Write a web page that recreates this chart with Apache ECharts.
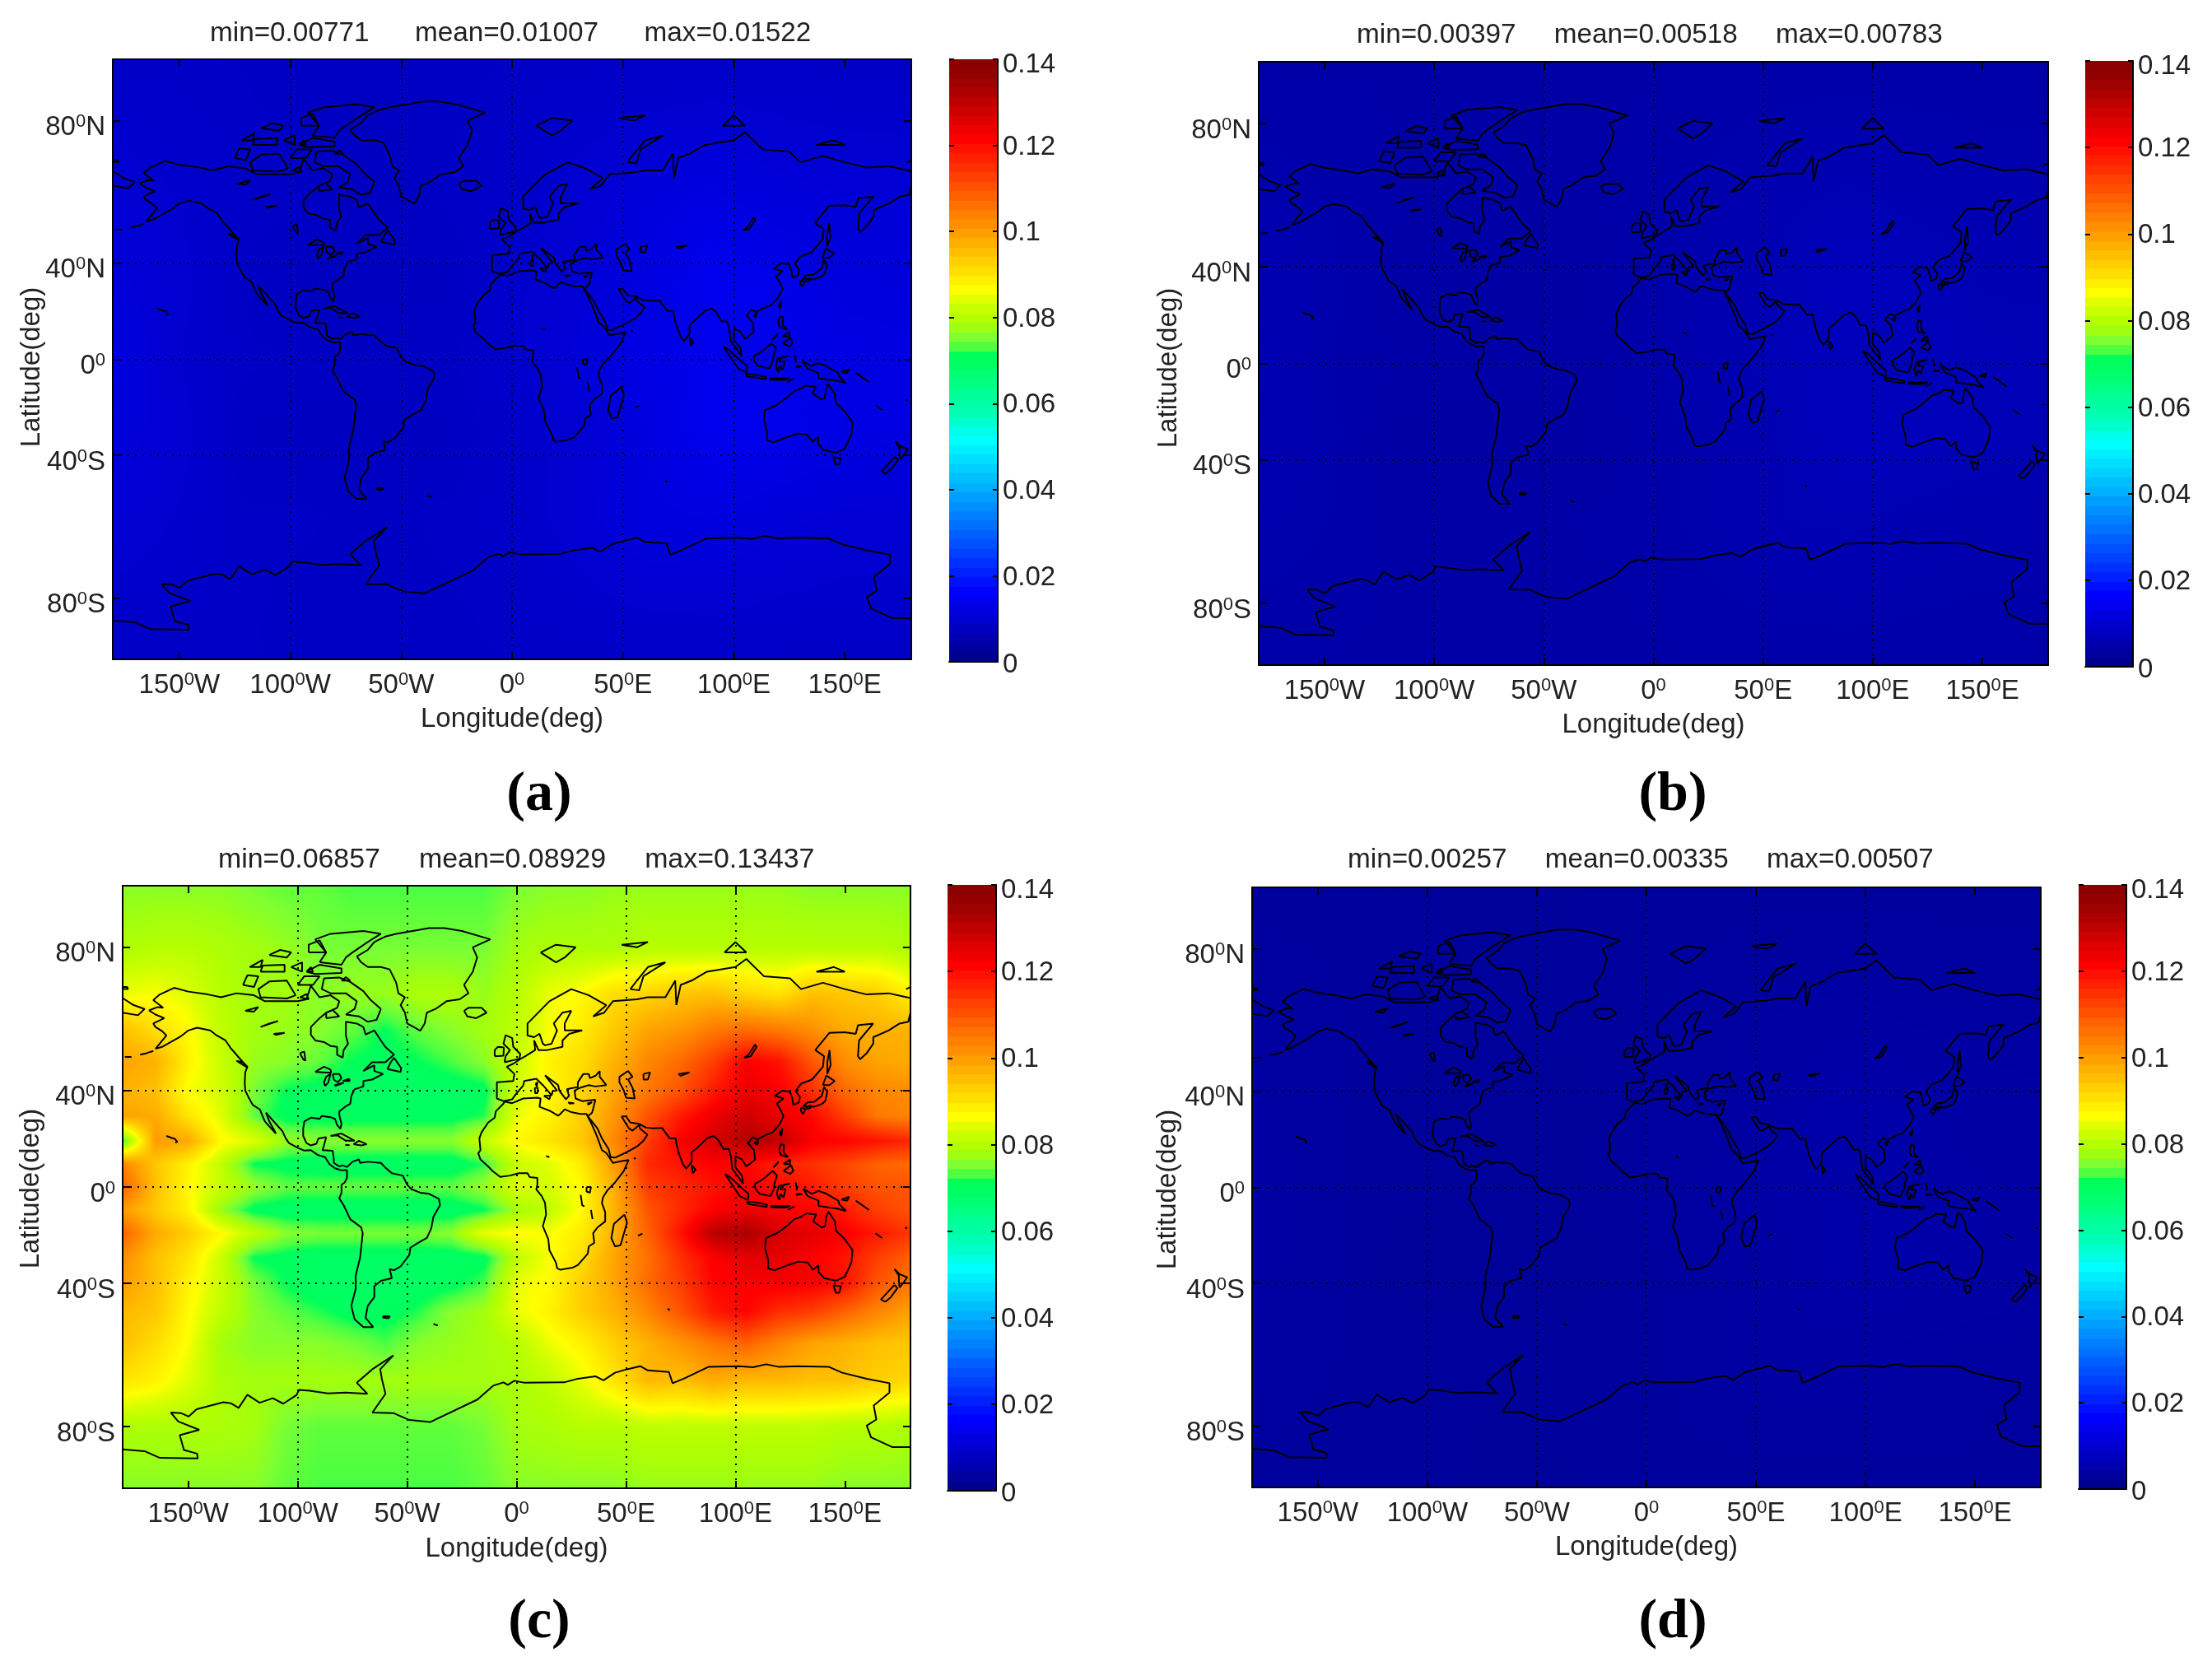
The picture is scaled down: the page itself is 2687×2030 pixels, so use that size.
<!DOCTYPE html>
<html>
<head>
<meta charset="utf-8">
<title>World maps</title>
<style>
  html, body { margin: 0; padding: 0; background: #fff; }
  #chart { width: 2687px; height: 2030px; }
</style>
<script src="https://cdn.jsdelivr.net/npm/echarts@6/dist/echarts.min.js"></script>
</head>
<body>
<div id="chart"></div>
<script>
// tick labels, split as [number, hemisphere]
const lonTicks = [-150, -100, -50, 0, 50, 100, 150]
const lonTickLabels = [['150', 'W'], ['100', 'W'], ['50', 'W'], ['0', ''], ['50', 'E'], ['100', 'E'], ['150', 'E']]
const latTicks = [-80, -40, 0, 40, 80]
const latTickLabels = [['80', 'S'], ['40', 'S'], ['0', ''], ['40', 'N'], ['80', 'N']]

const colorbarMax = 0.14
const colorbarInterval = 0.02

const titlesA = 'min=0.00771      mean=0.01007      max=0.01522'
const titlesB = 'min=0.00397     mean=0.00518     max=0.00783'
const titlesC = 'min=0.06857     mean=0.08929     max=0.13437'
const titlesD = 'min=0.00257     mean=0.00335     max=0.00507'

// panel (c), in thousandths
const fineLons = [-180, -165, -150, -135, -120, -105, -90, -75, -60, -45, -30, -15, 0, 15, 30, 45, 60, 75, 90, 105, 120, 135, 150, 165, 180]
const fineLats = [90, 80, 70, 60, 50, 40, 30, 20, 10, 0, -10, -20, -30, -40, -50, -60, -70, -80, -90]
const fieldC = [
  [76, 76, 76, 76, 75, 74, 74, 73, 73, 73, 73, 73, 75, 76, 76, 77, 77, 77, 77, 77, 77, 76, 76, 76, 76],
  [79, 80, 80, 79, 78, 77, 75, 75, 75, 75, 75, 75, 78, 79, 79, 79, 80, 80, 80, 80, 80, 80, 80, 80, 79],
  [85, 86, 84, 80, 78, 78, 76, 77, 77, 79, 79, 77, 80, 85, 87, 91, 92, 94, 95, 92, 90, 95, 94, 93, 88],
  [95, 91, 87, 81, 78, 77, 76, 74, 71, 74, 76, 78, 81, 86, 89, 94, 99, 101, 105, 107, 105, 102, 98, 97, 97],
  [99, 97, 88, 82, 77, 76, 74, 71, 70, 71, 73, 76, 82, 88, 91, 97, 103, 107, 113, 122, 119, 110, 102, 99, 98],
  [97, 95, 86, 83, 75, 71, 70, 69, 69, 69, 69, 70, 83, 87, 92, 99, 105, 110, 118, 124, 122, 115, 107, 103, 102],
  [99, 98, 90, 84, 74, 70, 70, 70, 70, 70, 70, 72, 85, 88, 93, 101, 110, 118, 124, 128, 124, 121, 113, 105, 103],
  [72, 100, 98, 87, 84, 77, 76, 76, 76, 76, 76, 82, 87, 90, 94, 103, 113, 122, 127, 132, 130, 122, 121, 119, 116],
  [103, 94, 88, 81, 71, 70, 69, 69, 69, 69, 69, 72, 82, 84, 89, 100, 116, 119, 122, 121, 117, 115, 112, 108, 107],
  [108, 95, 87, 82, 77, 74, 74, 74, 74, 74, 74, 77, 84, 83, 87, 98, 113, 116, 119, 122, 120, 118, 113, 110, 110],
  [100, 94, 88, 77, 70, 69, 69, 69, 69, 69, 69, 71, 78, 81, 87, 97, 110, 116, 122, 124, 122, 121, 118, 113, 110],
  [108, 98, 93, 87, 81, 76, 75, 75, 75, 75, 76, 85, 87, 86, 89, 97, 108, 119, 131, 133, 127, 125, 122, 118, 114],
  [102, 95, 90, 82, 71, 70, 69, 69, 69, 69, 69, 70, 81, 86, 91, 99, 106, 115, 122, 125, 125, 122, 119, 113, 108],
  [100, 95, 88, 82, 75, 71, 69, 69, 69, 69, 70, 73, 85, 87, 93, 99, 107, 113, 121, 122, 123, 122, 119, 110, 105],
  [96, 94, 87, 81, 76, 74, 72, 70, 70, 72, 76, 78, 85, 88, 93, 97, 103, 110, 118, 121, 115, 113, 108, 103, 99],
  [95, 91, 86, 78, 76, 76, 76, 75, 73, 76, 77, 78, 80, 85, 88, 93, 97, 101, 105, 108, 103, 99, 97, 95, 94],
  [90, 88, 84, 79, 78, 78, 78, 78, 78, 78, 78, 78, 79, 81, 85, 90, 96, 95, 98, 96, 96, 95, 95, 93, 92],
  [79, 79, 79, 79, 78, 75, 74, 74, 74, 74, 74, 75, 78, 79, 80, 80, 81, 81, 81, 81, 81, 81, 80, 80, 79],
  [76, 76, 76, 76, 76, 74, 73, 73, 73, 73, 73, 74, 76, 76, 76, 76, 77, 77, 77, 77, 77, 77, 76, 76, 76]
]

// panels (a), (b), (d) hardly vary, so a coarser reading is enough
const coarseLons = [-180, -150, -120, -90, -60, -30, 0, 30, 60, 90, 120, 150, 180]
const coarseLats = [90, 60, 30, 0, -30, -60, -90]
const fieldA = [
  [8.6, 8.6, 8.5, 8.3, 8.2, 8.3, 8.6, 8.7, 8.7, 8.7, 8.7, 8.6, 8.6],
  [10.7, 9.8, 8.8, 8.5, 8.0, 8.6, 9.1, 10.3, 11.6, 12.5, 11.5, 11.0, 10.9],
  [11.2, 10.1, 8.4, 7.9, 7.9, 7.9, 9.6, 10.5, 12.4, 14.4, 13.7, 11.8, 11.6],
  [12.2, 9.8, 8.7, 8.4, 8.3, 8.4, 9.5, 11.1, 12.8, 13.8, 13.3, 12.7, 12.4],
  [11.5, 10.2, 8.0, 7.8, 7.8, 7.9, 9.1, 10.3, 12.0, 14.1, 13.8, 12.8, 12.2],
  [10.7, 9.7, 8.6, 8.6, 8.3, 8.7, 9.0, 10.5, 11.9, 12.2, 11.2, 10.7, 10.6],
  [8.6, 8.6, 8.6, 8.3, 8.2, 8.3, 8.6, 8.6, 8.7, 8.7, 8.7, 8.6, 8.6]
]
const fieldB = [
  [4.4, 4.4, 4.4, 4.3, 4.2, 4.3, 4.4, 4.5, 4.5, 4.5, 4.5, 4.4, 4.4],
  [5.5, 5.0, 4.5, 4.4, 4.1, 4.4, 4.7, 5.3, 6.0, 6.4, 5.9, 5.7, 5.6],
  [5.8, 5.2, 4.3, 4.1, 4.1, 4.1, 4.9, 5.4, 6.4, 7.4, 7.0, 6.1, 6.0],
  [6.3, 5.0, 4.5, 4.3, 4.3, 4.3, 4.9, 5.7, 6.6, 7.1, 6.9, 6.5, 6.4],
  [5.9, 5.2, 4.1, 4.0, 4.0, 4.1, 4.7, 5.3, 6.2, 7.3, 7.1, 6.6, 6.3],
  [5.5, 5.0, 4.4, 4.4, 4.3, 4.5, 4.6, 5.4, 6.1, 6.3, 5.8, 5.5, 5.5],
  [4.4, 4.4, 4.4, 4.3, 4.2, 4.3, 4.4, 4.4, 4.5, 4.5, 4.5, 4.4, 4.4]
]
const fieldD = [
  [2.9, 2.9, 2.8, 2.8, 2.7, 2.8, 2.9, 2.9, 2.9, 2.9, 2.9, 2.9, 2.9],
  [3.6, 3.3, 2.9, 2.8, 2.7, 2.9, 3.0, 3.4, 3.9, 4.1, 3.8, 3.7, 3.6],
  [3.7, 3.4, 2.8, 2.6, 2.6, 2.6, 3.2, 3.5, 4.1, 4.8, 4.6, 3.9, 3.9],
  [4.1, 3.3, 2.9, 2.8, 2.8, 2.8, 3.2, 3.7, 4.3, 4.6, 4.4, 4.2, 4.1],
  [3.8, 3.4, 2.7, 2.6, 2.6, 2.6, 3.0, 3.4, 4.0, 4.7, 4.6, 4.2, 4.0],
  [3.6, 3.2, 2.9, 2.9, 2.8, 2.9, 3.0, 3.5, 4.0, 4.1, 3.7, 3.6, 3.5],
  [2.9, 2.9, 2.8, 2.8, 2.7, 2.8, 2.9, 2.9, 2.9, 2.9, 2.9, 2.9, 2.9]
]

// the 64 colorbar bands, bottom to top
const jetColors = [
  [0, 0, 143], [0, 0, 159], [0, 0, 175], [0, 0, 191], [0, 0, 207], [0, 0, 223], [0, 0, 239], [0, 0, 255],
  [0, 16, 255], [0, 32, 255], [0, 48, 255], [0, 64, 255], [0, 80, 255], [0, 96, 255], [0, 112, 255], [0, 128, 255],
  [0, 143, 255], [0, 159, 255], [0, 175, 255], [0, 191, 255], [0, 207, 255], [0, 223, 255], [0, 239, 255], [0, 255, 255],
  [0, 255, 230], [0, 255, 205], [0, 255, 180], [0, 255, 165], [0, 255, 150], [0, 255, 130], [0, 255, 115], [0, 255, 100],
  [0, 255, 90], [80, 255, 64], [128, 255, 48], [160, 255, 16], [180, 255, 0], [200, 255, 0], [224, 255, 0], [255, 255, 0],
  [255, 239, 0], [255, 223, 0], [255, 207, 0], [255, 191, 0], [255, 175, 0], [255, 159, 0], [255, 143, 0], [255, 128, 0],
  [255, 112, 0], [255, 96, 0], [255, 80, 0], [255, 64, 0], [255, 48, 0], [255, 32, 0], [255, 16, 0], [255, 0, 0],
  [239, 0, 0], [223, 0, 0], [207, 0, 0], [191, 0, 0], [175, 0, 0], [159, 0, 0], [147, 0, 0], [139, 0, 0]
]

// coastlines, lon lat pairs
const alaskaToPanama = [-168,65.6, -164,66.5, -161.5,66.3, -166,68.3, -163,69.7, -156.5,71.3, -150,70.4, -141,69.7, -135,69, -128,70, -125,69.8, -120,69.5, -115,68, -108,68, -100,68, -96,68.5, -94,71.8, -90,69, -85,69.5, -81,68, -82,66.3, -87,65, -90,63.5, -94,61, -94,58.7, -92,57, -88,56.5, -85,55.3, -82,55, -82,52.5, -79.5,51.5, -79,54, -77,56, -78,58.5, -78,62.5, -73,62, -70,61, -69,58.8, -65,60, -62,57, -60,55, -56,52.5, -60,50, -66,50, -70,47, -65,49, -65,47, -61,46, -66,44, -70,43.5, -70,41.5, -74,40.5, -75.5,38, -76,35, -78,34, -81,32, -81,30.5, -80,27, -80.5,25, -82,26.5, -83,29, -85,29.7, -89,30.2, -90,29, -94,29.5, -97,28, -97.5,25, -97.5,22, -96,19, -94,18, -91.5,18.7, -90.5,21, -87,21.5, -88,18, -88.7,16, -84,15.7, -83.5,12, -83.5,10.5, -81,9, -79.5,9.5, -77.5,8.7]
const panamaToBering = [-77.5,7.5, -80,7.3, -83,8.2, -85.5,10, -87.5,13, -91,14, -94,16, -97,15.8, -100,17, -104,19, -105.5,21, -107,24, -109,26, -112.5,29.5, -114.5,31.5, -113,28, -110.5,24, -110,23, -112,25, -115,28, -116.5,31, -117.2,32.7, -120.5,34.5, -122.5,37.5, -124,40, -124.2,43, -124,46.5, -123,48.5, -125,50, -128,52.5, -130.5,54.5, -133,57, -137,58.5, -140,60, -146,60.8, -150,60, -152,59, -154,58, -158,56.5, -162,55, -165,54.4, -160,58.5, -162,59.8, -165,61, -166,62, -161,63.5, -165,64.5, -168,65.6]
const southAmerica = [-77.5,8.7, -75,11, -72,12, -71.5,10.5, -68,11, -62,10.5, -60,8.5, -57,6, -52,5, -50,1, -48,-1, -44,-2.5, -40,-3, -35.5,-5.2, -35,-8, -38,-13, -39,-18, -41,-22, -45,-24, -48.5,-26, -49,-29, -53,-33.5, -56,-35, -58,-34.5, -57,-38, -62,-39, -65,-41, -65,-45, -68,-48, -69,-52, -65.5,-55, -70,-55, -74,-52.5, -75.5,-48, -73.5,-42, -73.5,-37, -71.5,-30, -70.3,-20, -71,-17.5, -76,-14, -79,-8, -81,-5, -80,-2.5, -80,1, -78.5,2, -77.5,4, -77.5,7.5]
const greenland = [-73,78.2, -71,77, -68,76, -62,76, -58,75.5, -55,72.5, -54,70, -51,69, -53,67, -51,65, -50,62, -47,61, -44,59.9, -42,62, -41,65, -37,66, -32,68, -26,68.5, -22,70, -24,72, -20,75, -18,78, -20,80, -12,81.5, -25,83, -33,83.5, -40,83.5, -55,82.5, -60,82, -65,81, -68,79.5, -73,78.2]
const baffin = [-62,66, -64,63, -68,62.5, -72,64, -78,64.5, -74,66, -73,68, -78,70, -85,70, -89,71, -88,73.5, -81,73.7, -76,72.7, -70,70.5, -67,68.5, -62,66]
const victoria = [-117,69, -105,68.7, -101,69.5, -105,73, -113,72.8, -118,71, -117,69]
const banks = [-125,72, -120,71.5, -118,74, -123,74.2, -125,72]
const ellesmere = [-90,77, -80,76.5, -78,78, -75,79, -68,81, -62,82.5, -70,83, -85,82.5, -92,81.5, -87,79, -90,77]
const devon = [-96,75, -92,74.5, -80,74.7, -80,75.7, -90,76.5, -96,75]
const axelHeiberg = [-95,79, -87,79, -90,81.3, -95,80.5, -95,79]
const melville = [-117,75, -106,75, -106,76.5, -116,76.3, -117,75]
const somerset = [-100,72, -93,72, -90,74, -97,74, -100,72]
const southampton = [-87,63.5, -81,64, -84,65.7, -87,65, -87,63.5]
const bathurst = [-103,76, -98,75, -98,77, -103,76]
const princePatrick = [-122,76, -117,76, -116,77.5, -122,76]
const ellefRingnes = [-113,78.5, -105,78, -103,79, -108,79.5, -113,78.5]
const kingWilliam = [-99,69, -95,68.5, -96,69.8, -99,69]
const bylot = [-80,73, -76,73, -78,73.8, -80,73]
const cornwallis = [-96,75, -93,75, -94,76, -96,75]
const newfoundland = [-59,47.7, -53,46.7, -52.7,48, -56,51.5, -57.5,50, -59,47.7]
const vancouver = [-128,50.5, -123.5,48.4, -125,50, -128,50.5]
const iceland = [-24,65.5, -22,66.3, -16,66.3, -13.7,65, -18.5,63.5, -22.5,64, -24,65.5]
const superior = [-92,46.7, -88,48.5, -85,47.5, -84.7,46.5, -87,46.5, -92,46.7]
const michigan = [-87.5,41.7, -86,43, -85,46, -87,45, -88,43, -87.5,41.7]
const huron = [-84,46, -81,46, -80,44.5, -81.7,43, -83.5,44, -84,46]
const erie = [-83,41.7, -79,42.8, -80,42.7, -83,42, -83,41.7]
const ontario = [-79.5,43.5, -76.3,43.5, -76.5,44.2, -79.5,43.5]
const bearLake = [-124,65.5, -118,66.5, -120,65.3, -124,65.5]
const slaveLake = [-117,61, -109,62.7, -113,62, -117,61]
const athabasca = [-111,59, -106,59.3, -110,58.7, -111,59]
const winnipeg = [-99,53, -97,53.5, -96.5,50.5, -97.5,51, -99,53]
const cuba = [-85,22, -80,23, -75,20.5, -74,20, -78,20, -82,22.3, -85,22]
const hispaniola = [-74.5,18.5, -72,20, -68.5,18.5, -71,18, -74.5,18.5]
const jamaica = [-78.3,18.3, -76.3,18.1, -77,17.8, -78.3,18.3]
const falklands = [-61,-51.5, -58,-51.5, -58.5,-52.2, -61,-52, -61,-51.5]
const southGeorgia = [-38,-54, -36,-54.5]
const hawaii = [-160,22, -158,21.3, -156,20.7, -155,19.5, -156,19.3]
const aleutians = [-179,51.8, -176,51.8]
const aleutiansEast = [-172,52.5, -169,53, -166,53.7]
const africa = [32.5,30, 32,31, 29,31, 25,31.7, 22,32.8, 20,31, 19,30.3, 15,32.3, 10.5,33.8, 11,37, 9.5,37.3, 3,37, -2,35.2, -5.5,35.8, -6,35, -9.5,32, -10,29.5, -13,27.5, -16,23.5, -17,21, -16.5,16, -17.5,14.7, -16.5,12, -13,9, -11,7, -7.5,4.4, -3,5, 1,6, 5,6, 6,4.3, 9.5,4, 9.5,1, 9,-1, 11.5,-4, 13,-7, 13.5,-12, 12,-17, 14.5,-22.5, 15,-27, 18,-32, 18.5,-34.2, 20,-34.8, 25.5,-34, 28,-33, 32.5,-28.5, 33,-25.5, 35.5,-24, 35,-20, 37,-17.5, 40.5,-15, 40.5,-11, 39,-7, 39.5,-4.5, 41.5,-1.5, 45,2, 49,7, 51.2,11.8, 48,11.3, 44,10.5, 43,12, 41,14.8, 39,16, 37.3,20.5, 36,23.5, 34,27.5, 32.5,30]
const asiaSouth = [32.5,30, 34.5,28, 37,25, 39,21, 42,16.5, 43,13, 45,12.8, 50,15, 52,16, 55,17.5, 58,20, 59.8,22.5, 56.5,25, 56,26.5, 53,24.2, 51.5,25, 50,27, 48,30, 50,30, 52,27.5, 56,27, 59,25.5, 62,25.2, 66.5,25.3, 67.5,24, 70,21, 72.7,21, 73,19, 74,15, 76,10, 77.5,8, 80,11, 80,15, 82.5,17, 87,21, 90,22, 92,20.5, 94.5,16.5, 97,16.5, 98,13, 98.5,8, 100.5,5.5, 103.5,1.4, 104.2,1.5, 103,5, 100,8.5, 100,13.5, 103,12, 105,9, 106.5,10, 109,12, 108.5,16, 105.7,19, 108,21.5, 110,20.5, 113,22, 117,23.5, 120,26.5, 122,30, 121,32, 119,35, 122,37, 118,38, 121.5,40, 125,39.5, 126,37, 126.5,34.5, 129,35.5, 129.5,37.5, 127.5,39.8, 130,42.5, 135,44, 140,48.5, 140.5,52, 136.5,54, 143,59.3, 150,59.5, 155,59, 156,61.5, 163,62, 156.5,57, 156,52, 157,51, 160,53, 163,56, 163,58, 170,60, 175,62, 179,62.5, 180,65]
const chukotka = [-180,65, -173,64.3, -170,66, -175,67, -180,68.8]
const eurasiaNorth = [180,68.8, 170,70, 160,69.7, 150,71, 140,72.5, 130,71, 125,73.5, 113,74, 105,77.7, 100,76, 87,75, 80,73, 75,72, 73,67, 72.5,73, 68,69, 67,69, 60,69, 55,68.5, 44,68, 40,65, 35,64, 40,66.5, 41,67, 33,69.5, 25,71, 15,68, 5,62, 5,58.5, 8,58, 10.5,59, 12,56, 13,55.5, 16,56, 18.5,60, 17,62, 21,65, 25,65.5, 22,62, 22,60, 30,60, 24,59, 21,57, 21,55, 14,54, 10,54, 8,57, 8.5,54, 4,52, 1.5,51, -1.5,49.5, -4.5,48.5, -1,46, -1.5,43.5, -9,43, -9,37, -6,36, -2,36.7, 0,39, 3,41.8, 3.5,43.5, 9,44.3, 12,42, 16,38.2, 16.5,39.8, 18.5,40, 13,45.5, 19,42, 19.5,40, 22.5,36.7, 24,38, 23,40.5, 26,41, 28,41.2, 28,43, 30.5,46, 33,46, 33.5,44.5, 36,45.3, 38,47, 38,45, 41,42, 36,41.5, 33,42, 29,41, 26.5,40, 27,37, 30,36, 36,36.5, 35,33, 34.5,31.5, 32.5,30]
const caspian = [47,45, 51,47, 53,45, 51,44, 53,41, 54,37, 50,37.3, 49,40, 47,43, 47,45]
const aral = [58,46, 61,46.5, 60,44, 58,44, 58,46]
const baikal = [104,51.5, 106,52.5, 109,55.7, 109.7,55, 107,52, 104,51.5]
const balkhash = [74,46, 79,46.5, 75,45.3, 74,46]
const novayaZemlya = [52,71, 56,70.7, 58,74, 68,77, 60,76, 55,73, 52,71]
const svalbard = [11,79, 18,77, 22,78, 27,80, 18,80.5, 11,79]
const franzJosef = [48,80.5, 60,81, 55,80, 48,80.5]
const severnaya = [95,79, 105,79, 100,81, 95,79]
const newSiberian = [137,75, 150,75, 145,76, 137,75]
const wrangelEast = [178,71, 180,71.5]
const wrangelWest = [-180,71.5, -178,71.5, -177.5,71, -180,71]
const sakhalin = [142,46, 143.5,49, 143,54, 142.5,54, 142,50, 142,46]
const honshu = [130.9,34, 133,35.5, 136,35.7, 139.5,38, 140.5,41.3, 142,39.5, 141,36, 139.7,35, 136,33.8, 132.5,34, 130.9,34]
const kyushu = [130,33.5, 132,33, 131,31, 130,32, 130,33.5]
const shikoku = [132.5,33.8, 134.5,34.2, 134,33.2, 132.5,33, 132.5,33.8]
const hokkaido = [140,42, 141.5,45.4, 145.3,43.5, 143,42, 140,42]
const taiwan = [120.2,23, 121.5,25.2, 121,22, 120.2,23]
const hainan = [108.7,19, 110.5,20, 110,18.3, 108.7,19]
const luzon = [120,16, 120.7,18.5, 122.2,18.3, 122,15, 124,13, 120.7,14, 120,16]
const mindanao = [122,7, 125.5,9.5, 126.5,7, 125,5.7, 122,7]
const visayas = [122,10, 125,12, 125,10, 122,10]
const palawan = [117.3,8.5, 119.7,11, 119,10, 117.3,8.5]
const sumatra = [95.3,5.6, 98,4, 103.5,-1, 106,-3, 105.8,-5.8, 102,-4, 98.5,1, 95.3,5.6]
const java = [105.3,-6.5, 108,-6.5, 114.5,-7.7, 114.3,-8.7, 106,-7.5, 105.3,-6.5]
const borneo = [109,1.5, 111.5,2.7, 114,4.5, 117,7, 119,5, 118,2, 117.5,-1, 116,-4, 111,-3, 109,-0.5, 109,1.5]
const sulawesi = [119.8,0.5, 125,1.5, 121,0.5, 120.5,-1, 123,-1, 122,-4.5, 120.5,-3, 120.3,-5.5, 119.5,-5, 119,-2.5, 119.8,0.5]
const newGuinea = [131,-0.8, 135,-3, 138,-1.7, 141,-2.7, 147,-6, 147.5,-7.5, 150.5,-10.5, 147,-9.5, 143,-9, 138,-8.3, 138,-6, 133,-4, 131,-0.8]
const lesserSunda = [116,-8.3, 120,-8.3, 125,-8.3, 123,-9, 119,-9, 116,-8.8]
const timor = [124,-10, 127,-8.5, 125,-9.5, 124,-10]
const moluccas = [127.5,2, 128,0, 128,-1.5]
const ceram = [128,-3, 130.5,-3.2, 128,-3.5, 128,-3]
const newBritain = [148.5,-5.5, 152,-4.3, 151,-6, 148.5,-5.5]
const solomons = [155,-6, 158,-8, 161,-10]
const fiji = [177.5,-17.5, 178.5,-18]
const newCaledonia = [164,-20, 167,-22]
const australia = [114,-22, 113.5,-26, 115,-31, 115,-34.3, 118,-35, 124,-33, 129,-31.6, 133,-32, 135.5,-34.8, 138,-33, 138,-35.6, 140.5,-38, 146,-39, 150,-37.5, 153,-32, 153.5,-27, 150,-22.5, 146,-19, 145.5,-15, 142.5,-10.8, 141.5,-13, 141,-17, 139.5,-17.5, 135.5,-15, 137,-12, 132.5,-11.5, 130,-13, 127,-14, 124,-16.5, 122,-18, 119,-20, 114,-22]
const tasmania = [144.7,-40.7, 148.2,-41, 147.5,-43.3, 146,-43.5, 144.7,-40.7]
const newZealandNorth = [172.7,-34.5, 175,-36.5, 178.5,-37.7, 177,-39.5, 175,-41.5, 174.7,-39, 174.7,-37, 172.7,-34.5]
const newZealandSouth = [172.7,-40.5, 174,-41.7, 171,-45, 168.5,-46.6, 166.5,-45.8, 172.7,-40.5]
const madagascar = [49.3,-12, 50.5,-15.5, 47.5,-25, 45,-25.5, 43.3,-22, 44.5,-16, 49.3,-12]
const sriLanka = [80,9.7, 81.8,7.5, 80.5,6, 80,9.7]
const reunion = [55.5,-21, 57.5,-20.2]
const kerguelen = [69,-49, 70,-49.5]
const socotra = [53.5,12.5, 54.5,12.5]
const lakeVictoria = [32,0, 34,0, 33.5,-2.5, 32,-2, 32,0]
const lakeTanganyika = [29.3,-3.5, 30,-8, 31,-8.5]
const lakeMalawi = [34,-10, 34.7,-14]
const lakeChad = [13.5,13.5, 15,13]
const britain = [-5.5,50, 1.3,51.2, 1.7,52.7, -1.5,55, -2,57.7, -5,58.6, -6,56, -3,54, -5,52, -5.5,50]
const ireland = [-10,52, -6,52.2, -5.8,54.8, -8.5,55, -10,54, -10,52]
const sicily = [12.5,38, 15.5,38.2, 15,36.7, 12.5,38]
const sardinia = [8.3,41, 9.7,41, 9.5,39, 8.5,39, 8.3,41]
const corsica = [8.7,42.5, 9.5,43, 9.3,41.5, 8.7,42.5]
const crete = [23.5,35.4, 26.3,35.2, 24,35]
const cyprus = [32.3,35, 34.5,35.6, 33,34.7, 32.3,35]
const antarctica = [-180,-84.1, -170,-84.4, -163,-85.5, -145.7,-85.6, -146,-84.8, -152,-84.2, -153.9,-81.6, -145,-80.6, -154.6,-79, -158,-77.2, -153.4,-77.3, -149.8,-78, -146.2,-76.5, -134,-75, -130.6,-75.2, -127,-76.2, -123,-73.3, -117.4,-75.1, -111.4,-74.1, -106.6,-75.3, -100.6,-73.4, -99.4,-72.2, -94.6,-72.4, -86.2,-73, -78,-72.8, -68.2,-73.1, -73,-70.5, -65.9,-67.1, -56.3,-63.4, -62.3,-67.1, -61.5,-69.7, -59.9,-73.1, -65.9,-77.2, -56.3,-77.3, -49,-78.7, -39.5,-79.1, -17.9,-74.4, -10.7,-71.2, -6,-70.4, -4,-71, -1,-70, 3.7,-70.5, 21.7,-70.4, 28,-69.5, 36,-68.9, 39.7,-69.9, 45,-68, 50.5,-67.1, 56.5,-66.3, 60,-67.4, 69.6,-67.8, 71.3,-70.6, 76.8,-69.4, 87.6,-66.5, 102,-66.3, 108,-66.6, 114,-65.8, 120,-66.5, 128.4,-66.3, 142.8,-66.5, 148.8,-68, 160,-69.5, 170.4,-70.6, 170.4,-72.8, 163.2,-75.7, 164.4,-78.6, 160,-79.8, 162,-82, 171.6,-83.7, 180,-83.7]
const coastlines = [
  alaskaToPanama, panamaToBering, southAmerica, greenland, baffin, victoria, banks, ellesmere, devon, axelHeiberg, melville, somerset,
  southampton, bathurst, princePatrick, ellefRingnes, kingWilliam, bylot, cornwallis, newfoundland, vancouver, iceland, superior, michigan, huron, erie, ontario, bearLake, slaveLake,
  athabasca, winnipeg, cuba, hispaniola, jamaica, falklands, southGeorgia, hawaii, aleutians, aleutiansEast, africa, asiaSouth, chukotka,
  eurasiaNorth, caspian, aral, baikal, balkhash, novayaZemlya, svalbard, franzJosef, severnaya, newSiberian, wrangelEast, wrangelWest,
  sakhalin, honshu, kyushu, shikoku, hokkaido, taiwan, hainan, luzon, mindanao, visayas, palawan, sumatra, java, borneo, sulawesi, newGuinea,
  lesserSunda, timor, moluccas, ceram, newBritain, solomons, fiji, newCaledonia, australia, tasmania, newZealandNorth, newZealandSouth,
  madagascar, sriLanka, reunion, kerguelen, socotra, lakeVictoria, lakeTanganyika, lakeMalawi, lakeChad, britain, ireland, sicily, sardinia,
  corsica, crete, cyprus, antarctica
]

// the map's vertical axis is Miller's projection
function miller(lat) {
  return 1.25 * Math.log(Math.tan(Math.PI / 4 + 0.4 * lat * Math.PI / 180))
}

const coastData = []
coastlines.forEach(function (line) {
  for (let i = 0; i < line.length; i += 2) {
    coastData.push([line[i], miller(line[i + 1])])
  }
  coastData.push([null, null])
})

const textColor = '#222'
const textFont = 'Liberation Sans'

const panels = [
  { title: titlesA, titleSize: 33.3, field: fieldA, unit: 1e-3, lons: coarseLons, lats: coarseLats, letter: '(a)', grid: [137, 72, 1107, 801], bar: [1153, 72, 1212, 804], titleAt: [255, 24], letterAt: [655, 932], nameX: 39, nameY: 446, xNameGap: 56 },
  { title: titlesB, titleSize: 33.3, field: fieldB, unit: 1e-3, lons: coarseLons, lats: coarseLats, letter: '(b)', grid: [1529, 75, 2488, 808], bar: [2533, 74, 2591, 810], titleAt: [1648, 26], letterAt: [2032, 932], nameX: 1420, nameY: 447, xNameGap: 56 },
  { title: titlesC, titleSize: 33.9, field: fieldC, unit: 1e-3, lons: fineLons, lats: fineLats, letter: '(c)', grid: [149, 1076, 1106, 1808], bar: [1151, 1075, 1210, 1811], titleAt: [265, 1028], letterAt: [655, 1937], nameX: 38, nameY: 1444, xNameGap: 57 },
  { title: titlesD, titleSize: 33.3, field: fieldD, unit: 1e-3, lons: coarseLons, lats: coarseLats, letter: '(d)', grid: [1521, 1078, 2479, 1807], bar: [2525, 1075, 2583, 1809], titleAt: [1637, 1028], letterAt: [2032, 1937], nameX: 1419, nameY: 1445, xNameGap: 56 }
]

// blends the neighbouring bands so that a shaded field has no hard contours
function fieldColor(v) {
  const pos = Math.max(0, Math.min(jetColors.length - 1, v / colorbarMax * jetColors.length - 0.5))
  const i = Math.min(jetColors.length - 2, Math.floor(pos))
  const f = pos - i
  const a = jetColors[i]
  const b = jetColors[i + 1]
  return [a[0] + (b[0] - a[0]) * f, a[1] + (b[1] - a[1]) * f, a[2] + (b[2] - a[2]) * f]
}

// shades a cell between its four corner values, like MATLAB's shading interp
function renderCell(params, api) {
  const p0 = api.coord([api.value(0), api.value(1)])
  const p1 = api.coord([api.value(2), api.value(3)])
  const x = Math.round(p0[0])
  const y = Math.round(p0[1])
  const w = Math.max(1, Math.round(p1[0]) - x)
  const h = Math.max(1, Math.round(p1[1]) - y)
  const v00 = api.value(4)
  const v10 = api.value(5)
  const v01 = api.value(6)
  const v11 = api.value(7)
  const canvas = document.createElement('canvas')
  canvas.width = w
  canvas.height = h
  const ctx = canvas.getContext('2d')
  const img = ctx.createImageData(w, h)
  for (let py = 0; py < h; py++) {
    const ty = (py + 0.5) / h
    for (let px = 0; px < w; px++) {
      const tx = (px + 0.5) / w
      const v = (v00 * (1 - tx) + v10 * tx) * (1 - ty) + (v01 * (1 - tx) + v11 * tx) * ty
      const c = fieldColor(v)
      const o = (py * w + px) * 4
      img.data[o] = c[0]
      img.data[o + 1] = c[1]
      img.data[o + 2] = c[2]
      img.data[o + 3] = 255
    }
  }
  ctx.putImageData(img, 0, 0)
  return { type: 'image', style: { image: canvas, x: x, y: y, width: w, height: h } }
}

function renderBand(params, api) {
  const p0 = api.coord([0, api.value(1)])
  const p1 = api.coord([1, api.value(0)])
  const c = jetColors[api.value(2)]
  return {
    type: 'rect',
    shape: { x: p0[0], y: Math.round(p0[1]), width: p1[0] - p0[0], height: Math.round(p1[1]) - Math.round(p0[1]) },
    style: { fill: 'rgb(' + c.join(',') + ')' }
  }
}

function cellData(panel) {
  const rows = []
  for (let j = 0; j < panel.lats.length - 1; j++) {
    for (let i = 0; i < panel.lons.length - 1; i++) {
      rows.push([
        panel.lons[i], miller(panel.lats[j]), panel.lons[i + 1], miller(panel.lats[j + 1]),
        panel.field[j][i] * panel.unit, panel.field[j][i + 1] * panel.unit,
        panel.field[j + 1][i] * panel.unit, panel.field[j + 1][i + 1] * panel.unit
      ])
    }
  }
  return rows
}

const bandData = jetColors.map(function (c, i) {
  return [i / jetColors.length * colorbarMax, (i + 1) / jetColors.length * colorbarMax, i]
})

function tickText(pair) {
  return '{a|' + pair[0] + '}{s|0}' + (pair[1] ? '{a|' + pair[1] + '}' : '')
}

function barLabel(v) {
  if (v === 0) return '{low|0}'
  if (v >= colorbarMax - 1e-9) return '{top|' + v + '}'
  return '{mid|' + v + '}'
}

const labelRich = {
  a: { fontFamily: textFont, fontSize: 33, color: textColor, lineHeight: 40 },
  s: { fontFamily: textFont, fontSize: 22, color: textColor, lineHeight: 40, padding: [0, 0, 14, 0] }
}
const barBase = { fontFamily: textFont, fontSize: 33, color: textColor, lineHeight: 40 }
const barRich = {
  low: Object.assign({ padding: [7, 0, 0, 0] }, barBase),
  mid: Object.assign({ padding: [4, 0, 0, 0] }, barBase),
  top: Object.assign({ padding: [14, 0, 0, 0] }, barBase)
}
const tickStyle = { show: true, inside: true, length: 9, lineStyle: { color: '#000', width: 2 } }
const axisLineStyle = { show: true, onZero: false, lineStyle: { color: '#000', width: 2 } }
const dotted = { show: true, showMinLine: false, showMaxLine: false, lineStyle: { color: '#000', width: 2, type: [2, 7] } }

const latValues = latTicks.map(miller)
const yMax = miller(90)

const option = { animation: false, backgroundColor: '#fff', title: [], grid: [], xAxis: [], yAxis: [], series: [], graphic: [] }

panels.forEach(function (panel) {
  option.title.push({ text: panel.title, left: panel.titleAt[0], top: panel.titleAt[1], padding: 0, textStyle: { fontFamily: textFont, fontSize: panel.titleSize, fontWeight: 'normal', color: textColor } })
  option.title.push({ text: panel.letter, left: panel.letterAt[0], top: panel.letterAt[1], padding: 0, textAlign: 'center', textStyle: { fontFamily: 'Liberation Serif', fontSize: 68, fontWeight: 'bold', color: '#000' } })
  option.graphic.push({ type: 'text', x: panel.nameX, y: panel.nameY, rotation: Math.PI / 2, style: { text: 'Latitude(deg)', fontFamily: textFont, fontSize: 33, fill: textColor, textAlign: 'center', textVerticalAlign: 'middle' } })

  const mapGrid = option.grid.length
  option.grid.push({ left: panel.grid[0], top: panel.grid[1], width: panel.grid[2] - panel.grid[0], height: panel.grid[3] - panel.grid[1], containLabel: false, outerBoundsMode: 'none' })
  const xBase = option.xAxis.length
  const yBase = option.yAxis.length
  option.xAxis.push({
    type: 'value', gridIndex: mapGrid, position: 'bottom', min: -180, max: 180, z: 4,
    name: 'Longitude(deg)', nameLocation: 'middle', nameGap: panel.xNameGap,
    nameTextStyle: { fontFamily: textFont, fontSize: 33, color: textColor },
    axisLine: axisLineStyle,
    axisTick: Object.assign({ customValues: lonTicks }, tickStyle),
    splitLine: dotted,
    axisLabel: {
      show: true, customValues: lonTicks, margin: 12, rich: labelRich, alignMinLabel: 'center', alignMaxLabel: 'center',
      formatter: function (v) { return tickText(lonTickLabels[lonTicks.indexOf(Math.round(v))]) }
    }
  })
  option.xAxis.push({
    type: 'value', gridIndex: mapGrid, position: 'top', min: -180, max: 180, z: 4,
    axisLine: axisLineStyle, axisTick: Object.assign({ customValues: lonTicks }, tickStyle), splitLine: { show: false }, axisLabel: { show: false }
  })
  option.yAxis.push({
    type: 'value', gridIndex: mapGrid, position: 'left', min: -yMax, max: yMax, z: 4,
    axisLine: axisLineStyle,
    axisTick: Object.assign({ customValues: latValues }, tickStyle),
    splitLine: dotted,
    axisLabel: {
      show: true, customValues: latValues, margin: 9, padding: [17, 0, 0, 0], rich: labelRich, verticalAlignMinLabel: 'middle', verticalAlignMaxLabel: 'middle',
      formatter: function (v) {
        let best = 0
        latValues.forEach(function (m, i) { if (Math.abs(m - v) < Math.abs(latValues[best] - v)) best = i })
        return tickText(latTickLabels[best])
      }
    }
  })
  option.yAxis.push({
    type: 'value', gridIndex: mapGrid, position: 'right', min: -yMax, max: yMax, z: 4,
    axisLine: axisLineStyle, axisTick: Object.assign({ customValues: latValues }, tickStyle), splitLine: { show: false }, axisLabel: { show: false }
  })
  option.series.push({
    type: 'custom', xAxisIndex: xBase, yAxisIndex: yBase, z: 1, silent: true, clip: true,
    renderItem: renderCell, encode: { x: [0, 2], y: [1, 3] }, data: cellData(panel)
  })
  option.series.push({
    type: 'line', xAxisIndex: xBase, yAxisIndex: yBase, z: 2, silent: true, clip: true, showSymbol: false, symbol: 'none', connectNulls: false,
    lineStyle: { color: '#000', width: 2 }, data: coastData
  })

  const barGrid = option.grid.length
  option.grid.push({ left: panel.bar[0], top: panel.bar[1], width: panel.bar[2] - panel.bar[0], height: panel.bar[3] - panel.bar[1], containLabel: false, outerBoundsMode: 'none' })
  const xBar = option.xAxis.length
  const yBar = option.yAxis.length
  option.xAxis.push({
    type: 'value', gridIndex: barGrid, min: 0, max: 1, z: 4,
    axisLine: axisLineStyle, axisTick: { show: false }, splitLine: { show: false }, axisLabel: { show: false }
  })
  option.yAxis.push({
    type: 'value', gridIndex: barGrid, position: 'right', min: 0, max: colorbarMax, interval: colorbarInterval, z: 4,
    axisLine: axisLineStyle, axisTick: { show: true, inside: true, length: 6, lineStyle: { color: '#000', width: 2 } }, splitLine: { show: false },
    axisLabel: { show: true, margin: 6, formatter: barLabel, rich: barRich, showMinLabel: true, showMaxLabel: true, verticalAlignMinLabel: 'middle', verticalAlignMaxLabel: 'middle' }
  })
  option.yAxis.push({
    type: 'value', gridIndex: barGrid, position: 'left', min: 0, max: colorbarMax, interval: colorbarInterval, z: 4,
    axisLine: { show: false, onZero: false }, axisTick: { show: true, inside: true, length: 6, lineStyle: { color: '#000', width: 2 } }, splitLine: { show: false }, axisLabel: { show: false }
  })
  option.series.push({
    type: 'custom', xAxisIndex: xBar, yAxisIndex: yBar, z: 1, silent: true,
    renderItem: renderBand, encode: { y: [0, 1] }, data: bandData
  })
})

const chart = echarts.init(document.getElementById('chart'))
chart.setOption(option)
</script>
</body>
</html>
